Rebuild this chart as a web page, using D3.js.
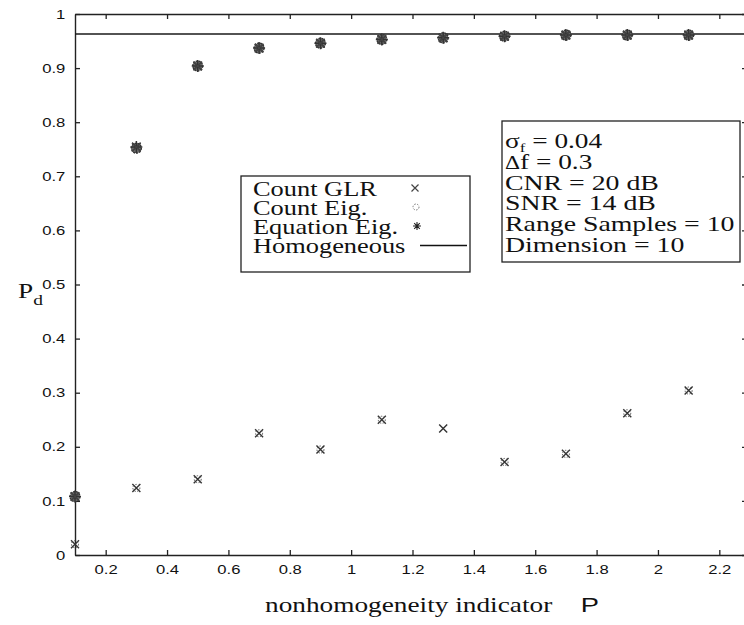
<!DOCTYPE html>
<html><head><meta charset="utf-8">
<script src="https://cdn.jsdelivr.net/npm/d3@7"></script>
<style>body{margin:0;background:#fff}svg{display:block}</style>
</head><body>
<svg id="c" width="744" height="625"></svg>
<script>
const pValues = [0.1, 0.3, 0.5, 0.7, 0.9, 1.1, 1.3, 1.5, 1.7, 1.9, 2.1, 2.3];
const countGLR = [0.02, 0.124, 0.140, 0.225, 0.195, 0.250, 0.234, 0.172, 0.187, 0.262, 0.304, 0.30];
const countEig = [0.108, 0.752, 0.904, 0.937, 0.946, 0.953, 0.956, 0.959, 0.961, 0.961, 0.961, 0.962];
const equationEig = [0.108, 0.754, 0.904, 0.937, 0.946, 0.953, 0.956, 0.959, 0.961, 0.961, 0.961, 0.962];
const homogeneous = 0.963;
const xTicks = [0.2, 0.4, 0.6, 0.8, 1.0, 1.2, 1.4, 1.6, 1.8, 2.0, 2.2];
const yTicks = [0, 0.1, 0.2, 0.3, 0.4, 0.5, 0.6, 0.7, 0.8, 0.9, 1];
const legendLabels = ["Count GLR", "Count Eig.", "Equation Eig.", "Homogeneous"];
const paramLines = ["= 0.04", "f = 0.3", "CNR = 20 dB", "SNR = 14 dB", "Range Samples = 10", "Dimension = 10"];

const SX = 1.3; // horizontal stretch of the scanned figure
const svg = d3.select("#c");
const x = d3.scaleLinear().domain([0.1, 2.3]).range([75, 750]);
const y = d3.scaleLinear().domain([0, 1]).range([555, 14]);
const fmt = d => String(+d.toFixed(1));
const sans = "'Liberation Sans', Arial, sans-serif";
const serif = "'Liberation Serif', 'Times New Roman', serif";

// axes
const gB = svg.append("g").attr("transform", `translate(0,${y(0)})`)
  .call(d3.axisBottom(x).tickValues(xTicks).tickFormat(fmt).tickSizeInner(-5).tickSizeOuter(0).tickPadding(10));
const gL = svg.append("g").attr("transform", `translate(${x(0.1)},0)`)
  .call(d3.axisLeft(y).tickValues(yTicks).tickFormat(fmt).tickSizeInner(-5).tickSizeOuter(0).tickPadding(7.5));
const gT = svg.append("g").attr("transform", `translate(0,${y(1)})`)
  .call(d3.axisTop(x).tickValues(xTicks).tickFormat("").tickSizeInner(-5).tickSizeOuter(0));
const gR = svg.append("g").attr("transform", `translate(747,0)`)
  .call(d3.axisRight(y).tickValues(yTicks).tickFormat("").tickSizeInner(-5).tickSizeOuter(0));
[gB, gL, gT, gR].forEach(g => {
  g.selectAll("path").attr("stroke", "#222").attr("stroke-width", 1.4);
  g.selectAll("line").attr("stroke", "#222").attr("stroke-width", 1.3);
  g.selectAll("text").attr("font-family", sans).attr("font-size", 12.8).attr("fill", "#111")
    .attr("transform", `scale(${SX},1)`);
});

// homogeneous line
svg.append("line").attr("x1", x(0.1)).attr("x2", x(2.3)).attr("y1", y(homogeneous)).attr("y2", y(homogeneous))
  .attr("stroke", "#1a1a1a").attr("stroke-width", 1.6);

function drawX(g, cx, cy, s, col, w) {
  g.append("path").attr("d", `M${cx - s},${cy - s}L${cx + s},${cy + s}M${cx - s},${cy + s}L${cx + s},${cy - s}`)
    .attr("stroke", col).attr("stroke-width", w).attr("fill", "none");
}
function drawStar(g, cx, cy, s, col, w) {
  const d = s * 0.7;
  g.append("path").attr("d", `M${cx},${cy - s}L${cx},${cy + s}M${cx - d},${cy - d}L${cx + d},${cy + d}M${cx - d},${cy + d}L${cx + d},${cy - d}M${cx - s},${cy}L${cx + s},${cy}`)
    .attr("stroke", col).attr("stroke-width", w).attr("fill", "none");
}

const marks = svg.append("g");
// Count GLR
pValues.forEach((p, i) => {
  const cx = x(p), cy = y(countGLR[i]);
  drawX(marks, cx, cy, 4, "#333", 1.4);
  if (i !== 6) marks.append("circle").attr("cx", cx).attr("cy", cy).attr("r", 3.5)
    .attr("fill", "none").attr("stroke", "#555").attr("stroke-width", 1).attr("stroke-dasharray", "1.5,1.5");
});
// Count Eig
pValues.forEach((p, i) => {
  marks.append("circle").attr("cx", x(p)).attr("cy", y(countEig[i])).attr("r", 5)
    .attr("fill", "#6a6a6a").attr("stroke", "#333").attr("stroke-width", 1.3).attr("stroke-dasharray", "2,1");
});
// Equation Eig
pValues.forEach((p, i) => {
  const cx = x(p), cy = y(equationEig[i]);
  drawStar(marks, cx, cy, 6, "#333", 1.5);
  drawX(marks, cx, cy, 4.3, "#444", 1.3);
});

function stretchedText(parent, tx, ty, size, family) {
  return parent.append("g").attr("transform", `translate(${tx},${ty}) scale(${SX},1)`)
    .append("text").attr("x", 0).attr("y", 0).attr("font-family", family).attr("font-size", size).attr("fill", "#111");
}

// Legend box
const lg = svg.append("g");
lg.append("rect").attr("x", 241).attr("y", 176).attr("width", 229).attr("height", 96)
  .attr("fill", "#fff").attr("stroke", "#222").attr("stroke-width", 1.3);
legendLabels.forEach((t, i) => {
  stretchedText(lg, 253, 195.5 + i * 19, 20.3, serif).text(t);
});
drawX(lg, 415, 188, 3.5, "#444", 1.2);
lg.append("circle").attr("cx", 416).attr("cy", 207).attr("r", 3).attr("fill", "none").attr("stroke", "#777")
  .attr("stroke-width", 1).attr("stroke-dasharray", "1.5,1.5");
drawStar(lg, 417, 226, 4, "#222", 1.1);
lg.append("line").attr("x1", 420).attr("x2", 467).attr("y1", 245.5).attr("y2", 245.5).attr("stroke", "#111").attr("stroke-width", 1.3);

// Param box
const pb = svg.append("g");
pb.append("rect").attr("x", 502).attr("y", 121).attr("width", 238).attr("height", 141)
  .attr("fill", "#fff").attr("stroke", "#222").attr("stroke-width", 1.3);
const lineY = i => 148 + i * 20.8;
const t0 = stretchedText(pb, 505, lineY(0), 21, serif);
t0.append("tspan").text("σ");
t0.append("tspan").attr("font-size", 13).attr("dy", 4).text("f");
t0.append("tspan").attr("dy", -4).text(" " + paramLines[0]);
const t1 = stretchedText(pb, 505, lineY(1), 21, serif);
t1.append("tspan").attr("font-size", 18).text("Δ");
t1.append("tspan").text(paramLines[1]);
paramLines.slice(2).forEach((t, i) => {
  stretchedText(pb, 505, lineY(i + 2), 21.4, serif).text(t);
});

// Axis labels
const yl = stretchedText(svg, 18, 298, 21, serif);
yl.append("tspan").text("P");
yl.append("tspan").attr("font-size", 15).attr("dy", 7).text("d");
const xl = stretchedText(svg, 265, 612, 21, serif);
xl.append("tspan").text("nonhomogeneity indicator");
xl.append("tspan").attr("dx", 22).attr("font-family", sans).attr("font-weight", 300).attr("font-size", 21).text("P");
</script>
</body></html>
